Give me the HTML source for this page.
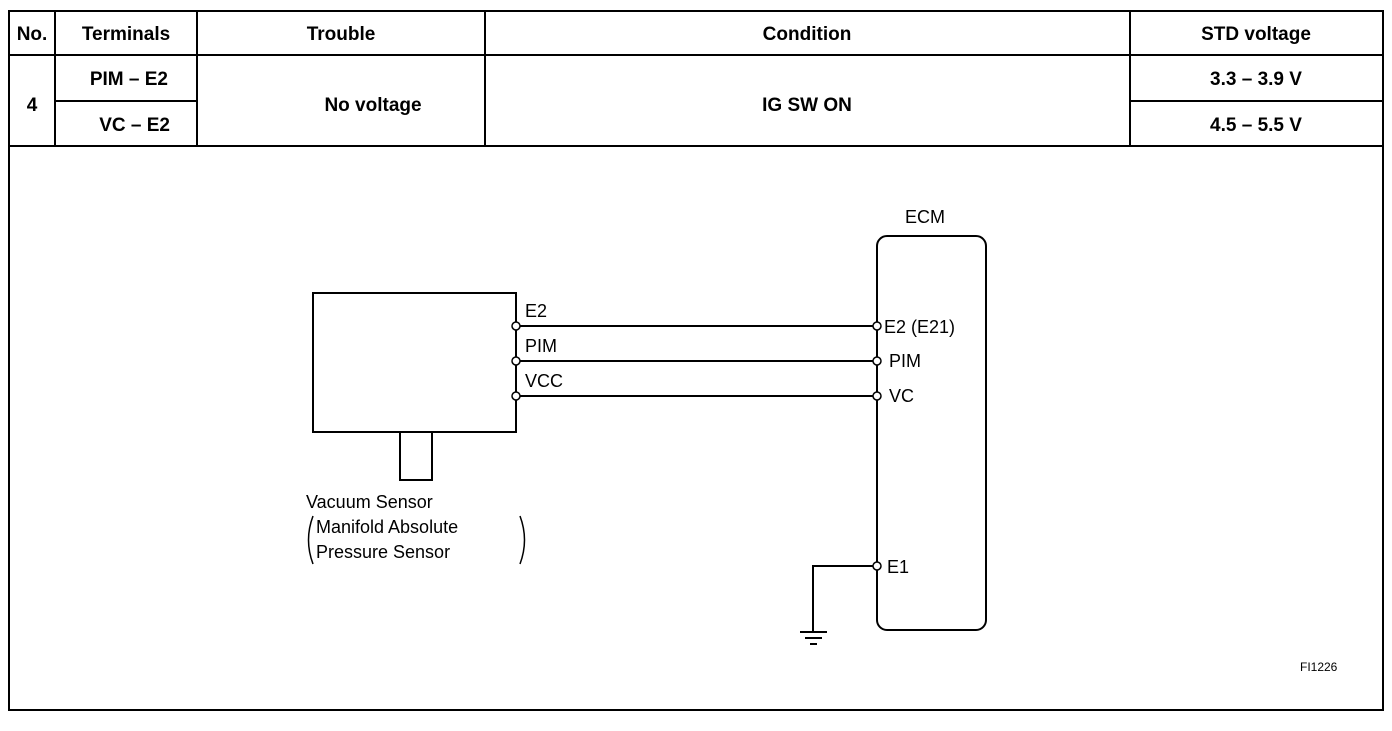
<!DOCTYPE html>
<html><head><style>
body{margin:0;background:#fff;width:1392px;height:726px;overflow:hidden;font-family:"Liberation Sans",sans-serif}
svg text{font-family:"Liberation Sans",sans-serif;fill:#000}
</style></head><body>
<svg width="1392" height="726" viewBox="0 0 1392 726">
<g stroke="#000" stroke-width="2" fill="none">
<rect x="9" y="11" width="1374" height="699"/>
<line x1="9" y1="55" x2="1383" y2="55"/>
<line x1="9" y1="146" x2="1383" y2="146"/>
<line x1="55" y1="11" x2="55" y2="146"/>
<line x1="197" y1="11" x2="197" y2="146"/>
<line x1="485" y1="11" x2="485" y2="146"/>
<line x1="1130" y1="11" x2="1130" y2="146"/>
<line x1="55" y1="101" x2="197" y2="101"/>
<line x1="1130" y1="101" x2="1383" y2="101"/>
<rect x="313" y="293" width="203" height="139"/>
<polyline points="400,432 400,480 432,480 432,432"/>
<rect x="877" y="236" width="109" height="394" rx="10"/>
<line x1="520" y1="326" x2="873" y2="326"/>
<line x1="520" y1="361" x2="873" y2="361"/>
<line x1="520" y1="396" x2="873" y2="396"/>
<polyline points="873,566 813,566 813,632"/>
<line x1="800" y1="632" x2="827" y2="632"/>
<line x1="805" y1="638" x2="822" y2="638"/>
<line x1="810" y1="644" x2="817" y2="644"/>
</g>
<g stroke="#000" stroke-width="1.5" fill="none">
<path d="M313,516 Q304,540 313,564"/>
<path d="M520,516 Q529,540 520,564"/>
</g>
<g stroke="#000" stroke-width="1.5" fill="#fff">
<circle cx="516" cy="326" r="4"/><circle cx="516" cy="361" r="4"/><circle cx="516" cy="396" r="4"/>
<circle cx="877" cy="326" r="4"/><circle cx="877" cy="361" r="4"/><circle cx="877" cy="396" r="4"/><circle cx="877" cy="566" r="4"/>
</g>
<g font-size="19" font-weight="bold" text-anchor="middle">
<text x="32" y="40">No.</text>
<text x="126" y="40">Terminals</text>
<text x="341" y="40">Trouble</text>
<text x="807" y="40">Condition</text>
<text x="1256" y="40">STD voltage</text>
<text x="32" y="111">4</text>
<text x="168" y="85" text-anchor="end">PIM – E2</text>
<text x="170" y="131" text-anchor="end">VC – E2</text>
<text x="373" y="111">No voltage</text>
<text x="807" y="111">IG SW ON</text>
<text x="1256" y="85">3.3 – 3.9 V</text>
<text x="1256" y="131">4.5 – 5.5 V</text>
</g>
<g font-size="18">
<text x="905" y="223">ECM</text>
<text x="525" y="317">E2</text>
<text x="525" y="352">PIM</text>
<text x="525" y="387">VCC</text>
<text x="884" y="333">E2 (E21)</text>
<text x="889" y="367">PIM</text>
<text x="889" y="402">VC</text>
<text x="887" y="573">E1</text>
<text x="306" y="508">Vacuum Sensor</text>
<text x="316" y="533">Manifold Absolute</text>
<text x="316" y="558">Pressure Sensor</text>
<text x="1300" y="671" font-size="12">FI1226</text>
</g>
</svg>
</body></html>
